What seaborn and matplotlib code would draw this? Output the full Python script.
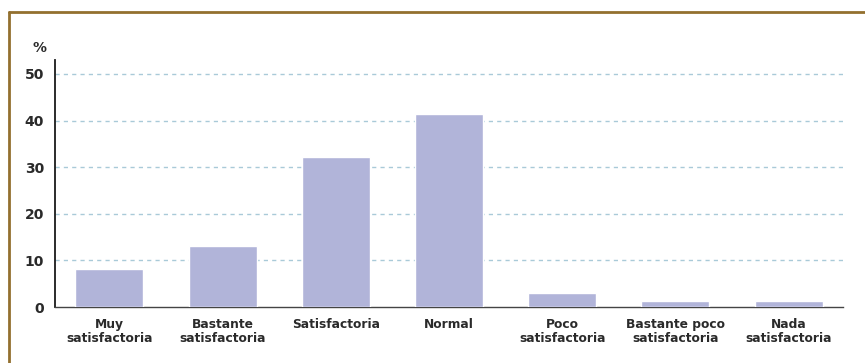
import matplotlib
matplotlib.use('Agg')
import matplotlib.pyplot as plt
import seaborn as sns
import pandas as pd
from matplotlib.lines import Line2D

# data
categories = ['Muy\nsatisfactoria', 'Bastante\nsatisfactoria', 'Satisfactoria', 'Normal',
              'Poco\nsatisfactoria', 'Bastante poco\nsatisfactoria', 'Nada\nsatisfactoria']
values = [8.2, 13.0, 32.2, 41.5, 3.0, 1.3, 1.3]
yticks = [0, 10, 20, 30, 40, 50]

df = pd.DataFrame({'cat': categories, 'pct': values})

sns.set_style('white')
plt.rcParams['font.family'] = ['DejaVu Sans']

fig = plt.figure(figsize=(8.65, 3.63), dpi=100)
ax = fig.add_axes([0.0636, 0.154, 0.911, 0.681])

sns.barplot(data=df, x='cat', y='pct', color='#b1b4d9', saturation=1, width=0.6, ax=ax, zorder=3)

ax.set_xlim(-0.48, 6.48)
ax.set_ylim(0, 53)
ax.set_yticks(yticks)
ax.set_yticklabels([str(t) for t in yticks], fontsize=10, fontweight='bold', color='#2a2a2a')
ax.set_xticks(range(len(categories)))
ax.set_xticklabels(categories, fontsize=8.8, fontweight='bold', color='#2a2a2a', linespacing=1.1)
ax.tick_params(axis='both', length=0)
ax.tick_params(axis='y', pad=8)
ax.tick_params(axis='x', pad=8)
ax.set_xlabel('')
ax.set_ylabel('')

for t in yticks[1:]:
    ax.axhline(t, color='#a9cad8', lw=1, ls=(0, (3, 3)), zorder=1)

sns.despine(ax=ax, top=True, right=True)
ax.spines['left'].set_color('#1a1a1a')
ax.spines['left'].set_linewidth(1.3)
ax.spines['bottom'].set_color('#444444')
ax.spines['bottom'].set_linewidth(1.0)

fig.text(0.046, 0.848, '%', fontsize=10, fontweight='bold', color='#2a2a2a', ha='center', va='bottom')

# frame lines (top and left)
frame_col = '#93702f'
fig.add_artist(Line2D([0.0105, 1.0], [0.968, 0.968], transform=fig.transFigure, color=frame_col, lw=2))
fig.add_artist(Line2D([0.0105, 0.0105], [0.0, 0.968], transform=fig.transFigure, color=frame_col, lw=2))

fig.savefig('out.png', dpi=100)
